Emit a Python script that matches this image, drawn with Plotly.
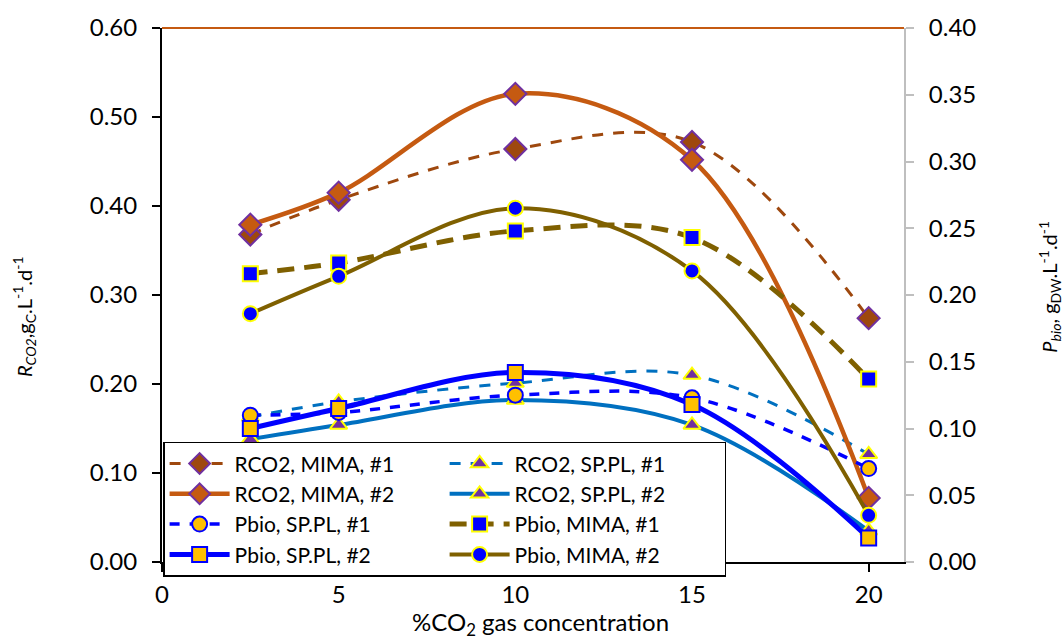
import plotly.graph_objects as go

x = [2.5, 5, 10, 15, 20]

# Left axis (R_CO2)
rco2_mima_1 = [0.368, 0.407, 0.464, 0.472, 0.274]
rco2_mima_2 = [0.379, 0.415, 0.526, 0.452, 0.072]
rco2_sppl_1 = [0.163, 0.180, 0.201, 0.210, 0.121]
rco2_sppl_2 = [0.138, 0.154, 0.182, 0.154, 0.035]

# Right axis (P_bio)
pbio_sppl_1 = [0.110, 0.112, 0.125, 0.123, 0.070]
pbio_mima_1 = [0.216, 0.224, 0.248, 0.243, 0.137]
pbio_sppl_2 = [0.100, 0.115, 0.142, 0.118, 0.018]
pbio_mima_2 = [0.186, 0.214, 0.265, 0.218, 0.035]

left_ticks = [0.0, 0.1, 0.2, 0.3, 0.4, 0.5, 0.6]
right_ticks = [0.0, 0.05, 0.1, 0.15, 0.2, 0.25, 0.3, 0.35, 0.4]
x_ticks = [0, 5, 10, 15, 20]

FONT = "Lato"

fig = go.Figure()

def add(name, y, axis, color, width, dash, symbol, mfill, medge, msize=15):
    fig.add_trace(go.Scatter(
        x=x, y=y, name=name, yaxis=axis, mode="lines+markers",
        line=dict(color=color, width=width, dash=dash, shape="spline", smoothing=1.0),
        marker=dict(symbol=symbol, size=msize, color=mfill, line=dict(color=medge, width=2)),
    ))

add("RCO2, MIMA, #1", rco2_mima_1, "y", "#9E480E", 3, "11px,10px", "diamond", "#9E480E", "#7030A0", 17)
add("RCO2, SP.PL, #1", rco2_sppl_1, "y", "#0070C0", 3, "11px,10px", "triangle-up", "#7030A0", "#FFFF00", 15)
add("RCO2, MIMA, #2", rco2_mima_2, "y", "#C55A11", 4.5, "solid", "diamond", "#C55A11", "#7030A0", 17)
add("RCO2, SP.PL, #2", rco2_sppl_2, "y", "#0070C0", 4, "solid", "triangle-up", "#7030A0", "#FFFF00", 15)
add("Pbio, SP.PL, #1", pbio_sppl_1, "y2", "#0000FF", 3.5, "10px,10px", "circle", "#FFC000", "#0000FF", 15)
add("Pbio, MIMA, #1", pbio_mima_1, "y2", "#7F6000", 5, "17px,10px", "square", "#0000FF", "#FFFF00", 15)
add("Pbio, SP.PL, #2", pbio_sppl_2, "y2", "#0000FF", 5, "solid", "square", "#FFC000", "#0000FF", 15)
add("Pbio, MIMA, #2", pbio_mima_2, "y2", "#7F6000", 4, "solid", "circle", "#0000FF", "#FFFF00", 15)

fig.update_layout(
    width=1064, height=639,
    margin=dict(l=162, r=160, t=21, b=77),
    paper_bgcolor="white", plot_bgcolor="white",
    font=dict(family=FONT, size=24, color="black"),
    showlegend=True,
    legend=dict(
        orientation="h", x=0.0015, y=0.225, xanchor="left", yanchor="top",
        bgcolor="white", bordercolor="black", borderwidth=1.5,
        font=dict(family=FONT, size=21, color="black"),
        entrywidth=205, entrywidthmode="pixels", tracegroupgap=0,
        itemwidth=60,
    ),
    xaxis=dict(
        range=[0, 21], tickvals=x_ticks, ticktext=[str(v) for v in x_ticks],
        showgrid=False, zeroline=False, showline=True, linecolor="black", linewidth=2,
        ticks="outside", ticklen=8, tickcolor="black", tickwidth=1.5,
        tickfont=dict(size=24), ticklabelstandoff=2,
    ),
    yaxis=dict(
        range=[0, 0.6], tickvals=left_ticks, ticktext=[f"{v:.2f}" for v in left_ticks],
        showgrid=False, zeroline=False, showline=True, linecolor="black", linewidth=2,
        ticks="outside", ticklen=8, tickcolor="black", tickwidth=1.5,
        tickfont=dict(size=24), ticklabelstandoff=10,
    ),
    yaxis2=dict(
        range=[0, 0.4], tickvals=right_ticks, ticktext=[f"{v:.2f}" for v in right_ticks],
        overlaying="y", side="right",
        showgrid=False, zeroline=False, showline=True, linecolor="#BFBFBF", linewidth=2,
        ticks="outside", ticklen=8, tickcolor="#BFBFBF", tickwidth=1.5,
        tickfont=dict(size=24), ticklabelstandoff=10,
    ),
)

# top border line (orange)
fig.add_shape(type="line", xref="paper", yref="paper", x0=0, x1=1, y0=1, y1=1,
              line=dict(color="#C55A11", width=2))

fig.add_annotation(
    text="<i>R</i><sub><i>CO2</i></sub>,g<sub>C</sub>.L<sup>-1</sup>.d<sup>-1</sup>",
    xref="paper", yref="paper", x=-0.185, y=0.46, textangle=-90,
    showarrow=False, font=dict(size=20), xanchor="center", yanchor="middle")
fig.add_annotation(
    text="<i>P<sub>bio</sub></i>, g<sub>DW</sub>.L<sup>-1</sup>.d<sup>-1</sup>",
    xref="paper", yref="paper", x=1.197, y=0.516, textangle=-90,
    showarrow=False, font=dict(size=20), xanchor="center", yanchor="middle")
fig.add_annotation(
    text="%CO<sub>2</sub> gas concentration",
    xref="paper", yref="paper", x=(540 - 162) / 742, y=-0.1146,
    showarrow=False, font=dict(size=24), xanchor="center", yanchor="middle")

fig.write_html("out.html")
